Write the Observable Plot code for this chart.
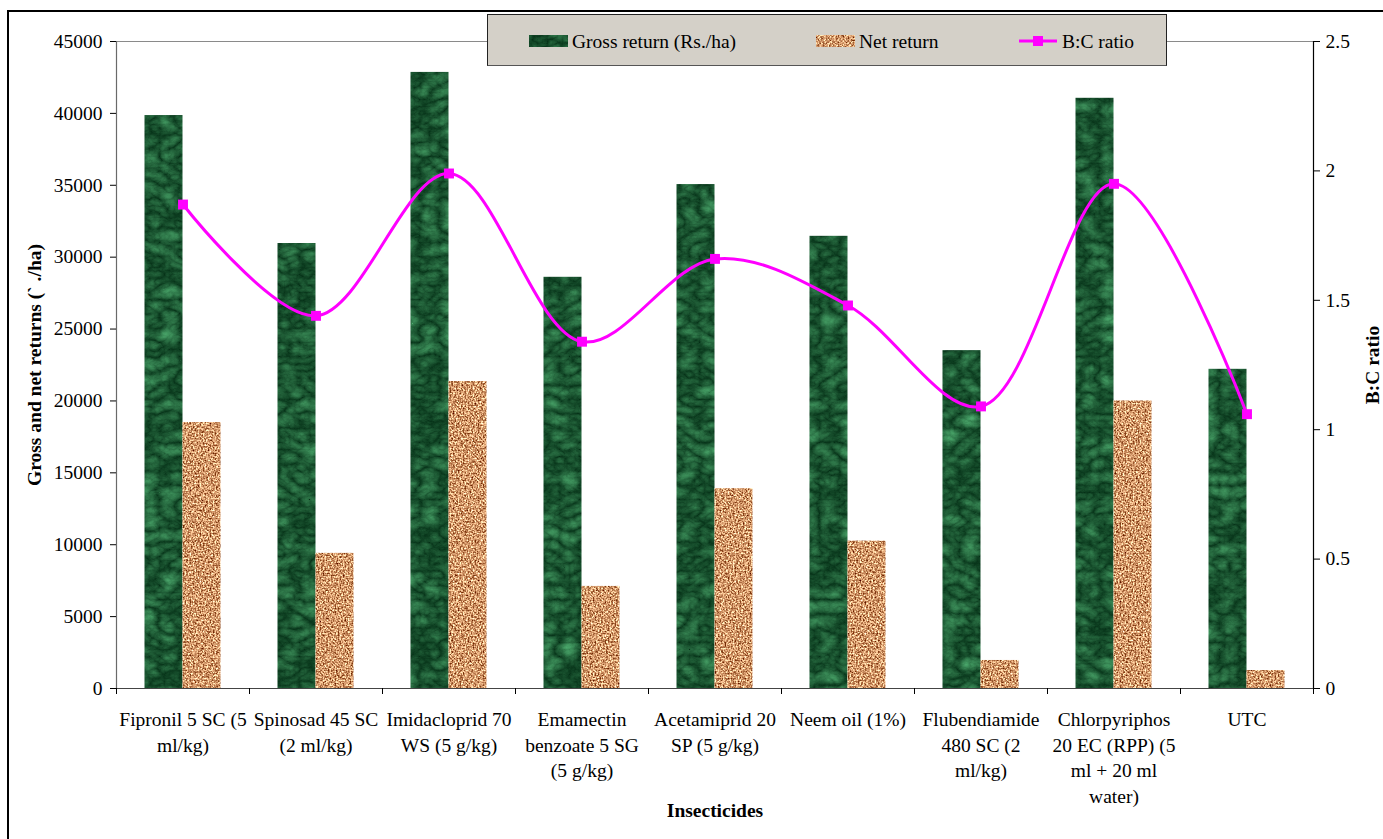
<!DOCTYPE html>
<html>
<head>
<meta charset="utf-8">
<script src="https://cdn.jsdelivr.net/npm/d3@7"></script>
<script src="https://cdn.jsdelivr.net/npm/@observablehq/plot@0.6"></script>
<style>
  html, body { margin: 0; padding: 0; background: #fff; }
  #wrap { position: relative; width: 1383px; height: 839px; overflow: hidden; font-family: "Liberation Serif", "Times New Roman", serif; }
  #border { position: absolute; left: 7px; top: 10px; width: 1400px; height: 860px; border-left: 2.5px solid #000; border-top: 2.5px solid #000; pointer-events: none; }
  #legend { position: absolute; left: 487px; top: 14px; width: 678px; height: 50px; background: #d4d0c8; border: 1px solid #222; border-bottom-color: #555; }
  #chart { position: absolute; left: 0; top: 0; }
</style>
</head>
<body>
<svg width="0" height="0" style="position:absolute">
  <defs>
    <filter id="fMarble" color-interpolation-filters="sRGB">
      <feTurbulence type="turbulence" baseFrequency="0.05 0.07" numOctaves="4" seed="11" result="n"/>
      <feColorMatrix in="n" type="matrix" values="0.28 0 0 0 0.02  0.48 0 0 0 0.19  0.34 0 0 0 0.09  0 0 0 0 1" result="c"/>
      <feComposite in="c" in2="SourceGraphic" operator="in"/>
    </filter>
    <filter id="fCork" color-interpolation-filters="sRGB">
      <feTurbulence type="fractalNoise" baseFrequency="0.6" numOctaves="2" seed="3" result="n"/>
      <feColorMatrix in="n" type="matrix" values="1.4 0 0 0 0.13  1.6 0 0 0 -0.20  1.5 0 0 0 -0.33  0 0 0 0 1" result="c"/>
      <feComposite in="c" in2="SourceGraphic" operator="in"/>
    </filter>
    <pattern id="texGreen" patternUnits="userSpaceOnUse" width="1383" height="839">
      <rect width="1383" height="839" fill="#000" filter="url(#fMarble)"/>
    </pattern>
    <pattern id="texCork" patternUnits="userSpaceOnUse" width="1383" height="839">
      <rect width="1383" height="839" fill="#000" filter="url(#fCork)"/>
    </pattern>
  </defs>
</svg>
<div id="wrap">
  <div id="chart"></div>
  <div id="border"></div>
  <div id="legend"></div>
</div>
<script>
// ---- data ----
const categories = [
  "Fipronil 5 SC (5 ml/kg)",
  "Spinosad 45 SC (2 ml/kg)",
  "Imidacloprid 70 WS (5 g/kg)",
  "Emamectin benzoate 5 SG (5 g/kg)",
  "Acetamiprid 20 SP (5 g/kg)",
  "Neem oil (1%)",
  "Flubendiamide 480 SC (2 ml/kg)",
  "Chlorpyriphos 20 EC (RPP) (5 ml + 20 ml water)",
  "UTC"
];
const tickLabels = [
  "Fipronil 5 SC (5\nml/kg)",
  "Spinosad 45 SC\n(2 ml/kg)",
  "Imidacloprid 70\nWS (5 g/kg)",
  "Emamectin\nbenzoate 5 SG\n(5 g/kg)",
  "Acetamiprid 20\nSP (5 g/kg)",
  "Neem oil (1%)",
  "Flubendiamide\n480 SC (2\nml/kg)",
  "Chlorpyriphos\n20 EC (RPP) (5\nml + 20 ml\nwater)",
  "UTC"
];
const grossReturn = [39850, 30950, 42850, 28600, 35050, 31450, 23500, 41050, 22200];
const netReturn   = [18500, 9400, 21350, 7100, 13900, 10250, 1950, 20000, 1250];
const bcRatio     = [1.87, 1.44, 1.99, 1.34, 1.66, 1.48, 1.09, 1.95, 1.06];
const leftTicks  = [0, 5000, 10000, 15000, 20000, 25000, 30000, 35000, 40000, 45000];
const rightTicks = [0, 0.5, 1, 1.5, 2, 2.5];
const seriesNames = ["Gross return (Rs./ha)", "Net return", "B:C ratio"];
const yTitle = "Gross and net returns (` ./ha)";
const y2Title = "B:C ratio";
const xTitle = "Insecticides";

// ---- build ----
const leftMax = 45000, rightMax = 2.5;
const K = leftMax / rightMax; // maps ratio onto left y scale
const rows = categories.map((c, i) => ({cat: c, gross: grossReturn[i], net: netReturn[i], bc: bcRatio[i]}));
const labelOf = new Map(categories.map((c, i) => [c, tickLabels[i]]));

const W = 1383, H = 839;
const mL = 116, mR = 70, mT = 41, mB = 151;
const band = (W - mL - mR) / categories.length;
const barW = 38;
const side = (band - 2 * barW) / 2;
const font = "'Liberation Serif', 'Times New Roman', serif";
const FS = 19.5;
const plotH = H - mT - mB;

const chart = Plot.plot({
  width: W, height: H,
  marginLeft: mL, marginRight: mR, marginTop: mT, marginBottom: mB,
  style: {fontFamily: font, fontSize: FS + "px", color: "#000", background: "transparent"},
  x: {type: "band", domain: categories, padding: 0},
  y: {domain: [0, leftMax]},
  marks: [
    Plot.barY(rows, {x: "cat", y: "gross", fill: "url(#texGreen)", insetLeft: side, insetRight: side + barW}),
    Plot.barY(rows, {x: "cat", y: "net", fill: "url(#texCork)", insetLeft: side + barW, insetRight: side}),
    // plot area border lines
    Plot.ruleY([leftMax], {stroke: "#8a8a8a", strokeWidth: 1.2}),
    Plot.ruleX([categories[0]], {dx: -band / 2, stroke: "#6a6a6a", strokeWidth: 1.2}),
    Plot.ruleX([categories[categories.length - 1]], {dx: band / 2, stroke: "#000", strokeWidth: 1.2}),
    Plot.ruleY([0], {stroke: "#444", strokeWidth: 1.2}),
    // category boundary ticks
    Plot.ruleX(categories, {dx: -band / 2, insetTop: plotH, insetBottom: -6, stroke: "#000"}),
    Plot.ruleX([categories[categories.length - 1]], {dx: band / 2, insetTop: plotH, insetBottom: -6, stroke: "#000"}),
    // axes
    Plot.axisY(leftTicks, {anchor: "left", tickSize: 6, tickPadding: 8, tickFormat: d3.format("d"), label: null, fontSize: FS}),
    Plot.axisY(rightTicks.map(t => t * K), {anchor: "right", tickSize: 6, tickPadding: 6, tickFormat: d => String(+(d / K).toFixed(2)), label: null, fontSize: FS}),
    Plot.axisX({tickSize: 0, tickPadding: 20, tickFormat: d => labelOf.get(d), lineHeight: 1.3, label: null, fontSize: FS}),
    // B:C ratio
    Plot.line(rows, {x: "cat", y: d => d.bc * K, curve: "catmull-rom", stroke: "#ff00ff", strokeWidth: 3}),
    Plot.dot(rows, {x: "cat", y: d => d.bc * K, symbol: "square", r: 5.6, fill: "#ff00ff", stroke: "none"}),
    // titles
    Plot.text([yTitle], {frameAnchor: "left", textAnchor: "middle", dx: -82, rotate: -90, fontWeight: "bold", fontSize: FS}),
    Plot.text([y2Title], {frameAnchor: "right", textAnchor: "middle", dx: 59, rotate: -90, fontWeight: "bold", fontSize: FS}),
    Plot.text([xTitle], {frameAnchor: "bottom", dy: 128, fontWeight: "bold", fontSize: FS})
  ]
});
document.getElementById("chart").appendChild(chart);

// ---- legend ----
const lg = d3.select("#legend").append("svg").attr("width", 678).attr("height", 50)
  .style("font-family", font).style("font-size", FS + "px");
const lItems = [
  {x: 41, name: seriesNames[0], kind: "green"},
  {x: 328, name: seriesNames[1], kind: "cork"},
  {x: 531, name: seriesNames[2], kind: "line"}
];
const cy = 26;
for (const it of lItems) {
  if (it.kind === "line") {
    lg.append("line").attr("x1", it.x).attr("x2", it.x + 38).attr("y1", cy).attr("y2", cy).attr("stroke", "#ff00ff").attr("stroke-width", 3);
    lg.append("rect").attr("x", it.x + 19 - 5).attr("y", cy - 5).attr("width", 10).attr("height", 10).attr("fill", "#ff00ff");
  } else {
    lg.append("rect").attr("x", it.x).attr("y", cy - 6).attr("width", 39).attr("height", 12)
      .attr("fill", it.kind === "green" ? "url(#texGreen)" : "url(#texCork)");
  }
  lg.append("text").attr("x", it.x + 43).attr("y", cy).attr("dy", "0.35em").text(it.name);
}
</script>
</body>
</html>
